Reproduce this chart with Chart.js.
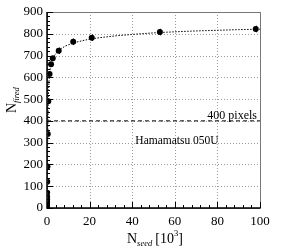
<!DOCTYPE html>
<html>
<head>
<meta charset="utf-8">
<script src="https://cdn.jsdelivr.net/npm/chart.js@4/dist/chart.umd.min.js"></script>
<style>
  html, body { margin: 0; padding: 0; background: #fff; }
  #wrap { width: 283px; height: 247px; }
</style>
</head>
<body>
<div id="wrap"><canvas id="c" width="283" height="247"></canvas></div>
<script>
// measured points, N_seed in 10^3
const seedX = [0.005, 0.01, 0.02, 0.03, 0.04, 0.05, 0.07, 0.12, 0.2, 0.36, 0.6, 1.2, 1.9, 2.7, 5.5, 12.3, 21, 53, 98];
const firedY = [5, 10, 20, 30, 40, 50, 70, 120, 190, 340, 490, 615, 660, 688, 722, 763, 782, 808, 822];
const firedErr = [0, 0, 0, 0, 0, 0, 0, 0, 0, 0, 0, 0, 0, 0, 15, 15, 15, 15, 15];

// fit curve
const fitX = [0, 0.2, 0.6, 1.2, 2, 3, 5, 8, 12, 20, 30, 40, 50, 60, 70, 80, 90, 100];
const fitY = [0, 190, 490, 612, 662, 690, 718, 740, 756, 775, 788, 797, 804, 809, 813, 816, 819, 821];

const pixelLimit = 400;
const xTicks = [0, 20, 40, 60, 80, 100];
const yTicks = [0, 100, 200, 300, 400, 500, 600, 700, 800, 900];

const SERIF = '"Liberation Serif", "DejaVu Serif", serif';

const frame = {
  id: 'frame',
  beforeDatasetsDraw(chart) {
    const { ctx, chartArea: a, scales: { x, y } } = chart;
    ctx.save();
    // dotted grid
    ctx.strokeStyle = '#9a9a9a';
    ctx.lineWidth = 1;
    ctx.setLineDash([1, 2]);
    xTicks.slice(1, -1).forEach(v => {
      const px = Math.round(x.getPixelForValue(v)) + 0.5;
      ctx.beginPath(); ctx.moveTo(px, a.top); ctx.lineTo(px, a.bottom); ctx.stroke();
    });
    yTicks.slice(1, -1).forEach(v => {
      const py = Math.round(y.getPixelForValue(v)) + 0.5;
      ctx.beginPath(); ctx.moveTo(a.left, py); ctx.lineTo(a.right, py); ctx.stroke();
    });
    ctx.setLineDash([]);
    ctx.restore();
  },
  afterDatasetsDraw(chart) {
    const { ctx, chartArea: a, scales: { x, y } } = chart;
    ctx.save();
    // error bars
    ctx.strokeStyle = '#000';
    ctx.lineWidth = 1;
    seedX.forEach((sx, i) => {
      if (!firedErr[i]) return;
      const px = Math.round(x.getPixelForValue(sx)) + 0.5;
      ctx.beginPath();
      ctx.moveTo(px, y.getPixelForValue(firedY[i] - firedErr[i]));
      ctx.lineTo(px, y.getPixelForValue(firedY[i] + firedErr[i]));
      ctx.stroke();
    });
    // frame
    ctx.strokeStyle = '#777';
    ctx.strokeRect(Math.round(a.left) + 0.5, Math.round(a.top) + 0.5,
      Math.round(a.right - a.left), Math.round(a.bottom - a.top));
    ctx.strokeStyle = '#000';
    ctx.lineWidth = 1.5;
    ctx.beginPath();
    ctx.moveTo(a.left, a.top); ctx.lineTo(a.left, a.bottom); ctx.lineTo(a.right, a.bottom);
    ctx.stroke();
    // inward ticks
    ctx.lineWidth = 1;
    for (let v = 0; v <= 100; v += 4) {
      const px = Math.round(x.getPixelForValue(v)) + 0.5;
      const len = v % 20 === 0 ? 6 : 3;
      ctx.beginPath(); ctx.moveTo(px, a.bottom); ctx.lineTo(px, a.bottom - len); ctx.stroke();
    }
    for (let v = 0; v <= 900; v += 20) {
      const py = Math.round(y.getPixelForValue(v)) + 0.5;
      const len = v % 100 === 0 ? 6 : 3;
      ctx.beginPath(); ctx.moveTo(a.left, py); ctx.lineTo(a.left + len, py); ctx.stroke();
    }
    // labels
    ctx.fillStyle = '#000';
    ctx.font = '12px ' + SERIF;
    ctx.textAlign = 'right';
    ctx.textBaseline = 'alphabetic';
    ctx.fillText('400 pixels', a.right - 3, y.getPixelForValue(pixelLimit) - 1.5);
    ctx.textAlign = 'center';
    ctx.textBaseline = 'middle';
    ctx.font = '11.5px ' + SERIF;
    ctx.fillText('Hamamatsu 050U', 177, 141);

    // x title: N_seed [10^3]
    ctx.textAlign = 'left';
    ctx.textBaseline = 'alphabetic';
    let tx = 127, ty = 243;
    ctx.font = '14px ' + SERIF;
    ctx.fillText('N', tx, ty); tx += ctx.measureText('N').width;
    ctx.font = 'italic 8.5px ' + SERIF;
    ctx.fillText('seed', tx, ty + 3); tx += ctx.measureText('seed').width + 3;
    ctx.font = '14px ' + SERIF;
    ctx.fillText('[10', tx, ty); tx += ctx.measureText('[10').width;
    ctx.font = '8.5px ' + SERIF;
    ctx.fillText('3', tx, ty - 7); tx += ctx.measureText('3').width;
    ctx.font = '14px ' + SERIF;
    ctx.fillText(']', tx, ty);

    // y title: N_fired, rotated
    ctx.translate(16, 113);
    ctx.rotate(-Math.PI / 2);
    tx = 0; ty = 0;
    ctx.font = '14px ' + SERIF;
    ctx.fillText('N', tx, ty); tx += ctx.measureText('N').width;
    ctx.font = 'italic 8.5px ' + SERIF;
    ctx.fillText('fired', tx, ty + 3);
    ctx.restore();
  }
};

new Chart(document.getElementById('c'), {
  type: 'scatter',
  data: {
    datasets: [
      {
        label: 'limit',
        data: [{ x: 0, y: pixelLimit }, { x: 100, y: pixelLimit }],
        showLine: true,
        borderColor: '#000',
        borderWidth: 1,
        borderDash: [4, 3],
        pointRadius: 0
      },
      {
        label: 'fit',
        data: fitX.map((v, i) => ({ x: v, y: fitY[i] })),
        showLine: true,
        borderColor: '#000',
        borderWidth: 1,
        borderDash: [1.5, 1.5],
        cubicInterpolationMode: 'monotone',
        pointRadius: 0
      },
      {
        label: 'data',
        data: seedX.map((v, i) => ({ x: v, y: firedY[i] })),
        backgroundColor: '#000',
        borderColor: '#000',
        pointRadius: 3,
        pointBorderWidth: 0
      }
    ]
  },
  options: {
    responsive: false,
    animation: false,
    layout: { padding: { top: 12, right: 23, left: 0, bottom: 0 } },
    plugins: { legend: { display: false }, tooltip: { enabled: false } },
    scales: {
      x: {
        type: 'linear', min: 0, max: 100,
        afterFit: s => { s.height = 39; },
        afterBuildTicks: s => { s.ticks = xTicks.map(v => ({ value: v })); },
        grid: { display: false, drawTicks: false },
        border: { display: false },
        ticks: { color: '#000', padding: 6, font: { family: SERIF, size: 13 }, maxRotation: 0 }
      },
      y: {
        type: 'linear', min: 0, max: 900,
        afterFit: s => { s.width = 47; },
        afterBuildTicks: s => { s.ticks = yTicks.map(v => ({ value: v })); },
        grid: { display: false, drawTicks: false },
        border: { display: false },
        ticks: { color: '#000', padding: 4, font: { family: SERIF, size: 13 } }
      }
    }
  },
  plugins: [frame]
});
</script>
</body>
</html>
